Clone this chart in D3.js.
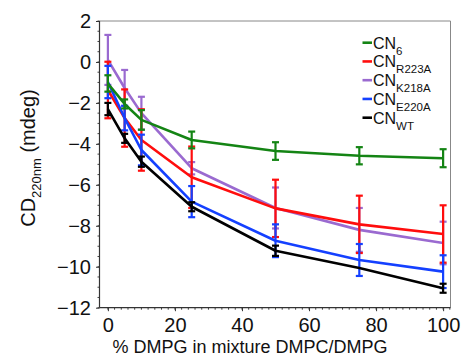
<!DOCTYPE html>
<html><head><meta charset="utf-8">
<script src="https://cdn.jsdelivr.net/npm/d3@7/dist/d3.min.js"></script>
<style>body{margin:0;background:#fff}svg{display:block;font-family:"Liberation Sans",Arial,sans-serif}</style>
</head><body><svg id="c" width="465" height="356"></svg>
<script>
const xValues = [0, 5, 10, 25, 50, 75, 100];
const seriesNames = ["CN6", "CNR223A", "CNK218A", "CNE220A", "CNWT"];
const legendMain = ["CN", "CN", "CN", "CN", "CN"];
const legendSub = ["6", "R223A", "K218A", "E220A", "WT"];
const colors = ["#148414", "#ff0d0d", "#9a6ad0", "#1440ff", "#000000"];
const cn6 = [-1.05, -2.05, -2.83, -3.81, -4.35, -4.58, -4.7];
const cn6Err = [0.4, 0.22, 0.48, 0.41, 0.43, 0.42, 0.44];
const r223a = [-1.37, -2.74, -3.81, -5.63, -7.15, -7.93, -8.4];
const r223aErr = [1.38, 1.4, 1.5, 1.5, 1.4, 1.4, 1.4];
const k218a = [0.1, -1.27, -2.5, -5.19, -7.13, -8.2, -8.84];
const k218aErr = [1.22, 0.88, 0.8, 0.3, 1.0, 1.07, 1.04];
const e220a = [-0.98, -2.74, -4.3, -6.82, -8.73, -9.67, -10.24];
const e220aErr = [0.79, 0.6, 0.75, 0.76, 0.8, 0.78, 0.8];
const wt = [-2.3, -3.73, -4.87, -7.07, -9.22, -10.06, -11.05];
const wtErr = [0.3, 0.22, 0.25, 0.22, 0.25, 0, 0.22];
const yTicks = [2, 0, -2, -4, -6, -8, -10, -12];
const xTicks = [0, 20, 40, 60, 80, 100];

const values = [cn6, r223a, k218a, e220a, wt];
const errs = [cn6Err, r223aErr, k218aErr, e220aErr, wtErr];
const drawOrder = [2, 1, 3, 0, 4];

const svg = d3.select("#c");
const L = 99.5, R = 450.5, T = 21, B = 307.7;
const x = d3.scaleLinear().domain([-2.5, 102.2]).range([L, R]);
const y = d3.scaleLinear().domain([-12, 2]).range([B, T]);

// frame (top/right)
svg.append("line").attr("x1", L).attr("x2", R).attr("y1", T).attr("y2", T).attr("stroke", "#888").attr("stroke-width", 1);
svg.append("line").attr("x1", R).attr("x2", R).attr("y1", T).attr("y2", B).attr("stroke", "#888").attr("stroke-width", 1);

// minor ticks
const yMinor = d3.range(-12, 2.01, 0.5);
const xMinor = d3.range(0, 102.1, 2);
const ax = svg.append("g").attr("stroke", "#444").attr("stroke-width", 1);
yMinor.forEach(v => ax.append("line").attr("x1", L - 2).attr("x2", L).attr("y1", y(v)).attr("y2", y(v)));
xMinor.forEach(v => ax.append("line").attr("x1", x(v)).attr("x2", x(v)).attr("y1", B).attr("y2", B + 2));

// axes
const yAxis = d3.axisLeft(y).tickValues(yTicks).tickSize(3.5).tickPadding(5)
  .tickFormat(d => d < 0 ? "\u2212" + Math.abs(d) : String(d));
const gy = svg.append("g").attr("transform", `translate(${L},0)`).call(yAxis);
const xAxis = d3.axisBottom(x).tickValues(xTicks).tickSize(3.5).tickPadding(7).tickFormat(d3.format("d"));
const gx = svg.append("g").attr("transform", `translate(0,${B})`).call(xAxis);
[gy, gx].forEach(g => {
  g.select(".domain").attr("stroke", "#333").attr("stroke-width", 1.2);
  g.selectAll(".tick line").attr("stroke", "#333");
  g.selectAll(".tick text").attr("font-size", 20).attr("fill", "#111")
    .attr("font-family", "'Liberation Sans',Arial,sans-serif");
});
gy.select(".domain").attr("d", `M0,${B}V${T}`);
gx.select(".domain").attr("d", `M${L},0H${R}`);

// series
const line = d3.line().x((d, i) => x(xValues[i])).y(d => y(d));
drawOrder.forEach(s => {
  const g = svg.append("g");
  g.append("path").datum(values[s]).attr("d", line).attr("fill", "none")
    .attr("stroke", colors[s]).attr("stroke-width", 2.6).attr("stroke-linejoin", "round");
  values[s].forEach((v, i) => {
    const e = errs[s][i];
    if (!e) return;
    const cx = x(xValues[i]), y1 = y(v + e), y2 = y(v - e);
    g.append("line").attr("x1", cx).attr("x2", cx).attr("y1", y1).attr("y2", y2).attr("stroke", colors[s]).attr("stroke-width", 2.2);
    [y1, y2].forEach(yy => g.append("line").attr("x1", cx - 3.5).attr("x2", cx + 3.5).attr("y1", yy).attr("y2", yy)
      .attr("stroke", colors[s]).attr("stroke-width", 2.2));
  });
});

// legend
const lg = svg.append("g");
seriesNames.forEach((n, i) => {
  const ly = 42.7 + i * 18.75;
  lg.append("line").attr("x1", 362.5).attr("x2", 372).attr("y1", ly).attr("y2", ly).attr("stroke", colors[i]).attr("stroke-width", 2.6);
  const t = lg.append("text").attr("x", 373).attr("y", ly + 6).attr("font-size", 16).attr("fill", "#111");
  t.append("tspan").text(legendMain[i]);
  t.append("tspan").attr("dy", 6).attr("font-size", 11.5).text(legendSub[i]);
});

// axis titles
svg.append("text").attr("x", 250).attr("y", 353).attr("text-anchor", "middle").attr("font-size", 18).attr("fill", "#111")
  .text("% DMPG in mixture DMPC/DMPG");
const yt = svg.append("text").attr("transform", "translate(35,158) rotate(-90)").attr("text-anchor", "middle").attr("fill", "#111").attr("font-size", 20);
yt.append("tspan").text("CD");
yt.append("tspan").attr("dy", 6).attr("font-size", 13).text("220nm");
yt.append("tspan").attr("dy", -6).text(" (mdeg)");
</script></body></html>
